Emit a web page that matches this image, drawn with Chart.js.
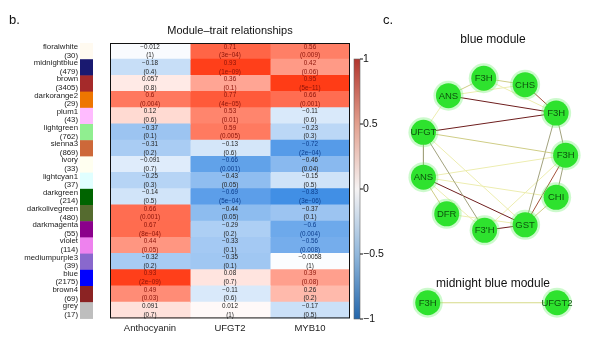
<!DOCTYPE html>
<html>
<head>
<meta charset="utf-8">
<script src="https://cdn.jsdelivr.net/npm/chart.js@4.4.1/dist/chart.umd.min.js"></script>
<style>
    html, body { margin: 0; padding: 0; background: #fff; }
    #wrap { position: relative; width: 597px; height: 359px; overflow: hidden; }
    #heat { position: absolute; left: 0; top: 0; }
    #net { position: absolute; left: 380px; top: 0; }
</style>
</head>
<body>
<div id="wrap">
    <canvas id="heat" width="390" height="359" style="width:390px;height:359px"></canvas>
    <canvas id="net" width="217" height="359" style="width:217px;height:359px"></canvas>
</div>
<script>
// ---- heatmap data ----
const modules = ['floralwhite', 'midnightblue', 'brown', 'darkorange2', 'plum1', 'lightgreen', 'sienna3', 'ivory',
    'lightcyan1', 'darkgreen', 'darkolivegreen', 'darkmagenta', 'violet', 'mediumpurple3', 'blue', 'brown4', 'grey'];
const moduleSizes = [30, 479, 3405, 29, 43, 762, 869, 33, 37, 214, 480, 55, 114, 39, 2175, 69, 17];
const moduleColors = ['#FFFAF0', '#191970', '#A52A2A', '#EE7600', '#FFBBFF', '#90EE90', '#CD6839', '#FFFFF0',
    '#E0FFFF', '#006400', '#556B2F', '#8B008B', '#EE82EE', '#8968CD', '#0000FF', '#8B2323', '#BEBEBE'];
const traits = ['Anthocyanin', 'UFGT2', 'MYB10'];

const corAnthocyanin = [-0.012, -0.18, 0.057, 0.6, 0.12, -0.37, -0.31, -0.091, -0.25, -0.14, 0.66, 0.67, 0.44, -0.32, 0.93, 0.49, 0.091];
const pAnthocyanin = ['1', '0.4', '0.8', '0.004', '0.6', '0.1', '0.2', '0.7', '0.3', '0.5', '0.001', '8e-04', '0.05', '0.2', '2e-09', '0.03', '0.7'];
const corUFGT2 = [0.71, 0.93, 0.36, 0.77, 0.53, 0.59, -0.13, -0.66, -0.43, -0.69, -0.44, -0.29, -0.33, -0.35, 0.08, -0.11, 0.012];
const pUFGT2 = ['3e-04', '1e-09', '0.1', '4e-05', '0.01', '0.005', '0.6', '0.001', '0.05', '5e-04', '0.05', '0.2', '0.1', '0.1', '0.7', '0.6', '1'];
const corMYB10 = [0.56, 0.42, 0.95, 0.66, -0.11, -0.23, -0.72, -0.46, -0.15, -0.83, -0.37, -0.6, -0.56, -0.0058, 0.39, 0.26, -0.17];
const pMYB10 = ['0.009', '0.06', '5e-11', '0.001', '0.6', '0.3', '2e-04', '0.04', '0.5', '3e-06', '0.1', '0.004', '0.008', '1', '0.08', '0.2', '0.5'];

const colorbarTicks = [1, 0.5, 0, -0.5, -1];

// ---- network data ----
const blueNodes = ['F3H', 'CHS', 'ANS', 'F3H', 'UFGT', 'F3H', 'ANS', 'CHI', 'DFR', "F3'H", 'GST'];
const blueNodeX = [103, 151, 62, 187, 33, 198, 33, 187, 60, 104, 151];
const blueNodeY = [69, 76, 88, 107, 128, 153, 177, 199, 217, 235, 229];
const blueEdgeFrom = [0, 0, 2, 2, 2, 1, 4, 2, 4, 4, 4, 4, 3, 3, 6, 6, 6, 6, 6, 8, 9, 5, 5, 5, 7];
const blueEdgeTo   = [1, 3, 0, 1, 3, 3, 3, 4, 5, 6, 9, 10, 5, 10, 5, 7, 10, 8, 9, 10, 10, 10, 7, 9, 10];
const blueEdgeWeight = [0.4, 0.3, 0.5, 0.25, 0.95, 0.8, 0.95, 0.3, 0.4, 0.6, 0.6, 0.3, 0.6, 0.6, 0.25, 0.3, 0.95, 0.5, 0.3, 0.35, 0.9, 0.8, 0.6, 0.3, 0.4];

const midNodes = ['F3H', 'UFGT2'];
const midNodeX = [38, 188];
const midNodeY = [314, 314];

const FONT = "'Liberation Sans', Arial, sans-serif";
const corByTrait = [corAnthocyanin, corUFGT2, corMYB10];
const pByTrait = [pAnthocyanin, pUFGT2, pMYB10];

function heatColor(v) {
    const t = Math.pow(Math.abs(v), 0.8);
    const end = v >= 0 ? [255, 52, 12] : [35, 125, 225];
    const c = end.map(e => Math.round(255 + (e - 255) * t));
    return 'rgb(' + c.join(',') + ')';
}

function textColor(v) {
    if (v >= 0.3) return '#8a1208';
    if (v <= -0.5) return '#0b3c8c';
    return '#222';
}

function fmt(v) {
    return (v < 0 ? '\u2212' : '') + String(Math.abs(v));
}

const heatPlugin = {
    id: 'heatExtras',
    afterDatasetsDraw(chart) {
        const ctx = chart.ctx;
        const area = chart.chartArea;
        const yScale = chart.scales.y;
        ctx.save();

        // cell labels
        ctx.font = '6.3px ' + FONT;
        ctx.textAlign = 'center';
        ctx.textBaseline = 'middle';
        chart.data.datasets.forEach((ds, c) => {
            chart.getDatasetMeta(c).data.forEach((el, r) => {
                const cx = (el.x + el.base) / 2;
                const v = corByTrait[c][r];
                ctx.fillStyle = textColor(v);
                ctx.fillText(fmt(v), cx, el.y - 4.2);
                ctx.fillText('(' + pByTrait[c][r].replace('-', '\u2212') + ')', cx, el.y + 4.6);
            });
        });

        // frame
        ctx.strokeStyle = '#111';
        ctx.lineWidth = 1;
        ctx.strokeRect(area.left + 0.5, area.top + 0.5, area.right - area.left - 1, area.bottom - area.top - 1);

        // module colour swatches
        const rowH = (area.bottom - area.top) / modules.length;
        modules.forEach((m, i) => {
            const yc = yScale.getPixelForValue(i);
            ctx.fillStyle = moduleColors[i];
            ctx.fillRect(80, yc - rowH / 2, 13, rowH + 0.5);
        });

        // panel letter and title
        ctx.fillStyle = '#111';
        ctx.textAlign = 'left';
        ctx.font = '13px ' + FONT;
        ctx.fillText('b.', 9, 20);
        ctx.textAlign = 'center';
        ctx.font = '11px ' + FONT;
        ctx.fillText('Module\u2013trait relationships', (area.left + area.right) / 2, 31);

        // colour bar
        const cbTop = 59, cbBottom = 319, cbLeft = 354, cbW = 6;
        const grad = ctx.createLinearGradient(0, cbTop, 0, cbBottom);
        grad.addColorStop(0, '#b2362e');
        grad.addColorStop(0.25, '#e2a08e');
        grad.addColorStop(0.5, '#f6f3f3');
        grad.addColorStop(0.75, '#92b8dc');
        grad.addColorStop(1, '#2466ab');
        ctx.fillStyle = grad;
        ctx.fillRect(cbLeft, cbTop, cbW, cbBottom - cbTop);
        ctx.strokeStyle = '#666';
        ctx.lineWidth = 0.6;
        ctx.strokeRect(cbLeft, cbTop, cbW, cbBottom - cbTop);
        ctx.font = '10.5px ' + FONT;
        ctx.textAlign = 'left';
        ctx.fillStyle = '#111';
        ctx.strokeStyle = '#111';
        ctx.lineWidth = 1;
        colorbarTicks.forEach(t => {
            const y = cbTop + (1 - t) / 2 * (cbBottom - cbTop);
            ctx.beginPath();
            ctx.moveTo(cbLeft + cbW, y);
            ctx.lineTo(cbLeft + cbW + 3, y);
            ctx.stroke();
            ctx.fillText(fmt(t), cbLeft + cbW + 3, y);
        });
        ctx.restore();
    }
};

new Chart(document.getElementById('heat').getContext('2d'), {
    type: 'bar',
    data: {
        labels: modules.map((m, i) => [m, '(' + moduleSizes[i] + ')']),
        datasets: traits.map((t, c) => ({
            label: t,
            data: modules.map(() => [c, c + 1]),
            backgroundColor: corByTrait[c].map(heatColor),
            borderWidth: 0,
            inflateAmount: 0.5,
            barPercentage: 1,
            categoryPercentage: 1,
            grouped: false
        }))
    },
    options: {
        indexAxis: 'y',
        responsive: false,
        animation: false,
        layout: { padding: { top: 43, right: 40, left: 0, bottom: 0 } },
        plugins: {
            legend: { display: false },
            tooltip: { enabled: false }
        },
        scales: {
            x: {
                type: 'linear',
                min: 0,
                max: 3,
                afterBuildTicks: scale => {
                    scale.ticks = [0.5, 1.5, 2.5].map(v => ({ value: v }));
                },
                afterFit: scale => { scale.height = 22; },
                ticks: {
                    autoSkip: false,
                    maxRotation: 0,
                    padding: 4,
                    color: '#222',
                    font: { size: 9.5, family: FONT },
                    callback: value => traits[Math.floor(value)]
                },
                grid: { display: false, drawTicks: false },
                border: { display: false }
            },
            y: {
                type: 'category',
                offset: true,
                afterFit: scale => { scale.width = 110; },
                ticks: {
                    autoSkip: false,
                    padding: 32,
                    color: '#222',
                    font: { size: 7.8, family: FONT, lineHeight: 1.1 }
                },
                grid: { display: false, drawTicks: false },
                border: { display: false }
            }
        }
    },
    plugins: [heatPlugin]
});

// ---- network ----
function edgeColor(w) {
    if (w >= 0.9) return '#6e1e1e';
    if (w >= 0.75) return '#a4523c';
    if (w >= 0.55) return '#a2a27e';
    if (w >= 0.4) return '#cfcd86';
    return '#ededb0';
}

const netDatasets = [];
const nodeData = blueNodes.map((n, i) => ({ x: blueNodeX[i], y: blueNodeY[i] }))
    .concat(midNodes.map((n, i) => ({ x: midNodeX[i], y: midNodeY[i] })));
const nodeLabels = blueNodes.concat(midNodes);

netDatasets.push({
    type: 'scatter',
    data: nodeData,
    pointRadius: 12.5,
    backgroundColor: '#2ee22e',
    borderWidth: 0,
    order: 0
});
netDatasets.push({
    type: 'scatter',
    data: nodeData,
    pointRadius: 15,
    backgroundColor: 'rgba(110,240,110,0.35)',
    borderWidth: 0,
    order: 1
});
blueEdgeFrom.forEach((f, i) => {
    const t = blueEdgeTo[i];
    netDatasets.push({
        type: 'line',
        data: [{ x: blueNodeX[f], y: blueNodeY[f] }, { x: blueNodeX[t], y: blueNodeY[t] }],
        borderColor: edgeColor(blueEdgeWeight[i]),
        borderWidth: 1,
        pointRadius: 0,
        order: 2
    });
});
netDatasets.push({
    type: 'line',
    data: [{ x: midNodeX[0], y: midNodeY[0] }, { x: midNodeX[1], y: midNodeY[1] }],
    borderColor: '#d6da88',
    borderWidth: 1.2,
    pointRadius: 0,
    order: 2
});

const netPlugin = {
    id: 'netExtras',
    afterDatasetsDraw(chart) {
        const ctx = chart.ctx;
        const meta = chart.getDatasetMeta(0);
        ctx.save();
        ctx.textAlign = 'center';
        ctx.textBaseline = 'middle';
        ctx.font = '9.5px ' + FONT;
        ctx.fillStyle = '#0d520d';
        meta.data.forEach((el, i) => {
            ctx.fillText(nodeLabels[i], el.x, el.y + 0.5);
        });
        ctx.fillStyle = '#111';
        ctx.font = '13px ' + FONT;
        ctx.textAlign = 'left';
        ctx.fillText('c.', 3, 20);
        ctx.textAlign = 'center';
        ctx.font = '12px ' + FONT;
        ctx.fillText('blue module', 113, 40);
        ctx.fillText('midnight blue module', 113, 284);
        ctx.restore();
    }
};

new Chart(document.getElementById('net').getContext('2d'), {
    type: 'scatter',
    data: { datasets: netDatasets },
    options: {
        responsive: false,
        animation: false,
        layout: { padding: 0 },
        plugins: {
            legend: { display: false },
            tooltip: { enabled: false }
        },
        scales: {
            x: { type: 'linear', min: 0, max: 217, display: false },
            y: { type: 'linear', min: 0, max: 359, reverse: true, display: false }
        },
        elements: { line: { tension: 0 } },
        clip: false
    },
    plugins: [netPlugin]
});
</script>
</body>
</html>
